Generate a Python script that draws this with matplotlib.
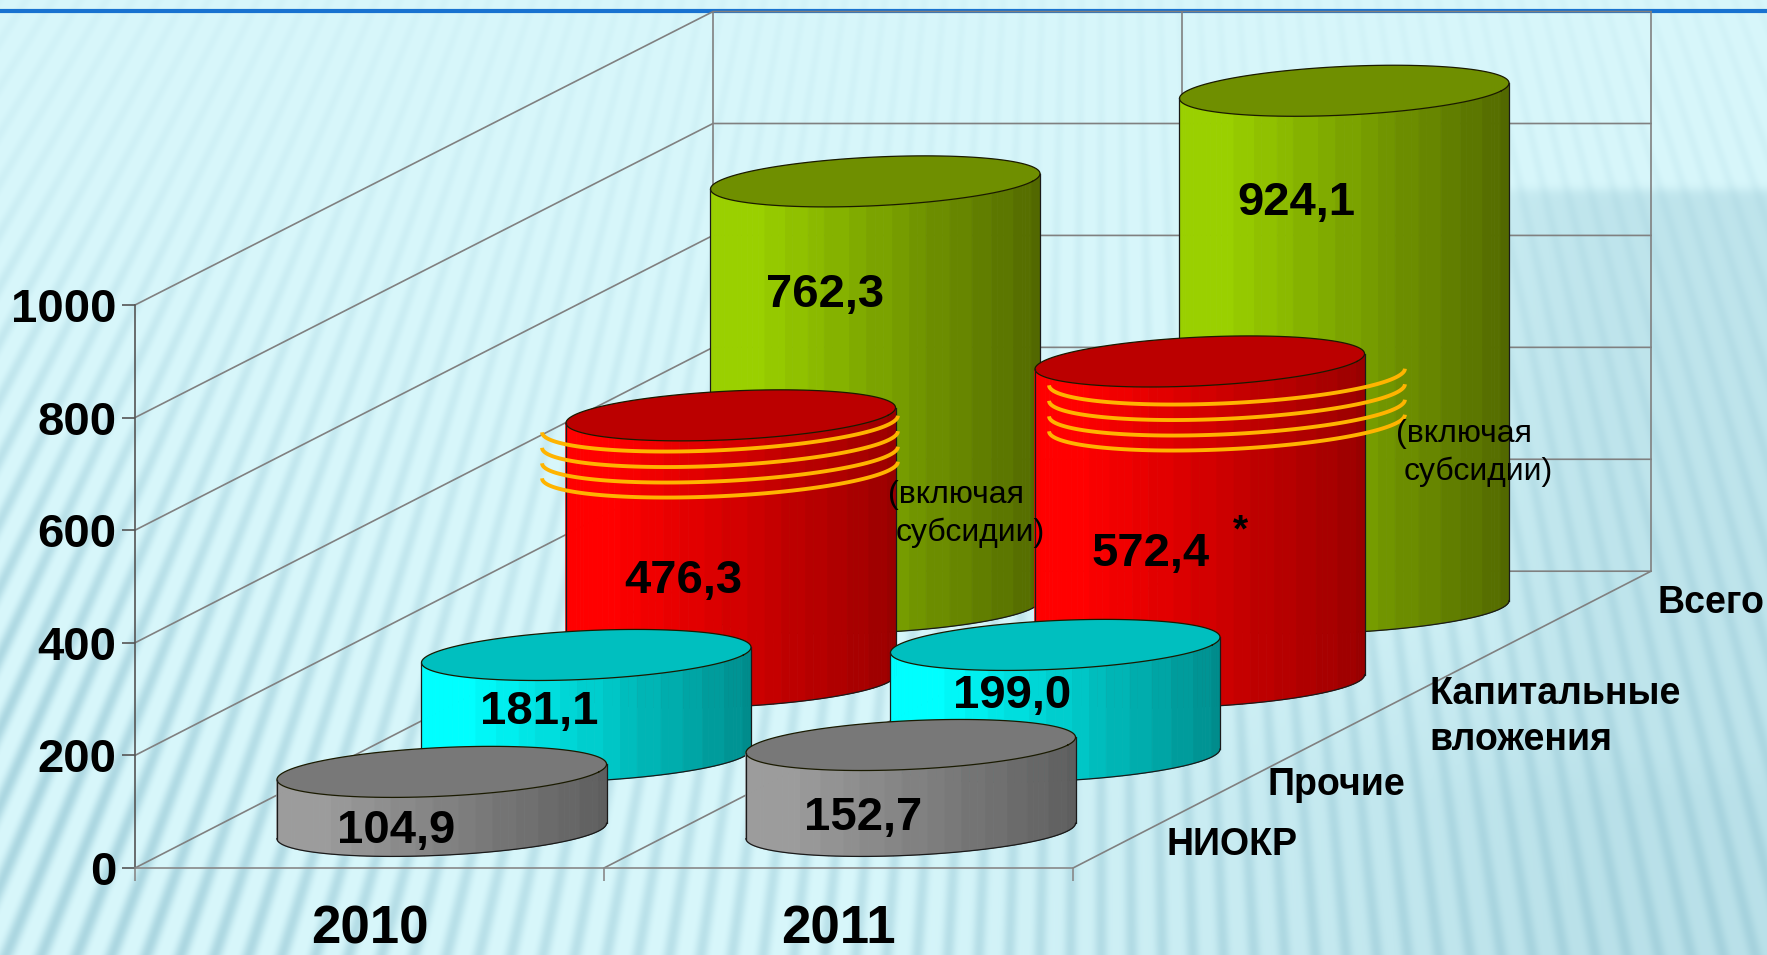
import numpy as np
import matplotlib
matplotlib.use("Agg")
import matplotlib.pyplot as plt
from matplotlib.collections import PolyCollection

plt.rcParams["font.family"] = ["Liberation Sans", "DejaVu Sans"]

# chart data
years = ["2010", "2011"]
series_names = ["НИОКР", "Прочие", "Капитальные\nвложения", "Всего"]
niokr = [104.9, 152.7]
prochie = [181.1, 199.0]
kapital = [476.3, 572.4]
vsego = [762.3, 924.1]
y_ticks = [0, 200, 400, 600, 800, 1000]

# left, right and top colours of each cylinder
cyl_colors = [
    ("#9c9c9c", "#5e5e5e", "#787878"),
    ("#00ffff", "#008c8c", "#00bfbf"),
    ("#ff0000", "#990000", "#bb0000"),
    ("#9ad000", "#526800", "#6f8f00"),
]

W, H = 1767, 955
# depth direction of the fake 3d box, per series, in axes data units
DX = 144.5 / 469
DY = 74.2 / 0.563
SHRINK = 0.0015  # small perspective, values get shorter towards the back
R_U = 0.335
R_D = 0.344
T0 = np.arctan2(R_D * DX, R_U)


def make_background():
    yy, xx = np.mgrid[0:H, 0:W].astype(float)
    light = np.array([216, 247, 251]) / 255
    dark = np.array([165, 210, 221]) / 255
    # soft darker shapes at the right
    patch = 1 / (1 + np.exp(-(yy - 190) / 3)) / (1 + np.exp(-(xx - 1480) / 40)) * 0.6
    lower = np.clip((xx - 850) / 750, 0, 1) * np.clip((yy - 450) / 350, 0, 1) * 0.7
    m = np.maximum(patch, lower)
    # fan of stripes
    theta = np.arctan2(xx - 1100, yy + 1700)
    phase = theta / 0.0115
    stripe = 0.5 + 0.5 * np.cos(2 * np.pi * phase)
    stripe = stripe ** 2
    amp = 0.10 + 0.5 * np.clip(yy / H, 0, 1) ** 1.2 + 0.4 * np.clip((500 - xx) / 500, 0, 1) * np.clip((yy - 150) / 500, 0.05, 1)
    amp = np.clip(amp, 0, 0.85)
    mix = np.clip(m * 0.85 + stripe * amp * (1 - m * 0.5), 0, 1)[..., None]
    return light * (1 - mix) + dark * mix


def proj(u, d, v):
    return u + d * DX, v * (1 - SHRINK * d) + d * DY


def draw_cylinder(ax, u, d, value, colors, z):
    left, right, top = [np.array(matplotlib.colors.to_rgb(c)) for c in colors]
    t = np.linspace(T0 + np.pi, T0 + 2 * np.pi, 61)
    xc, yb = proj(u, d, 0)
    _, ytop = proj(u, d, value)
    height = ytop - yb
    x = xc + R_U * np.cos(t) + R_D * DX * np.sin(t)
    y = yb + R_D * DY * np.sin(t)
    # side strips, banded shading from left to right
    frac = (x - x.min()) / (x.max() - x.min())
    polys, cols = [], []
    for i in range(len(t) - 1):
        polys.append([(x[i], y[i]), (x[i + 1], y[i + 1]),
                      (x[i + 1], y[i + 1] + height), (x[i], y[i] + height)])
        f = np.clip((frac[i] - 0.12) / 0.88, 0, 1)
        f = np.round(f * 14) / 14
        cols.append(left + (right - left) * f)
    ax.add_collection(PolyCollection(polys, facecolors=cols, edgecolors=cols, linewidths=0.6,
                                     zorder=z, clip_on=False))
    # top ellipse
    ta = np.linspace(0, 2 * np.pi, 121)
    xt = xc + R_U * np.cos(ta) + R_D * DX * np.sin(ta)
    yt = ytop + R_D * DY * np.sin(ta)
    ax.fill(xt, yt, color=top, zorder=z + 0.1, clip_on=False, lw=0)
    ax.plot(xt, yt, color="#1a1a00", lw=0.9, zorder=z + 0.2, clip_on=False)
    # outline of the body
    ax.plot(x, y, color="#1a1a1a", lw=0.9, zorder=z + 0.2, clip_on=False)
    for i in (0, -1):
        ax.plot([x[i], x[i]], [y[i], y[i] + height], color="#1a1a1a", lw=0.9, zorder=z + 0.2, clip_on=False)


fig = plt.figure(figsize=(W / 100, H / 100), dpi=100)

bg = fig.add_axes([0, 0, 1, 1], zorder=0)
bg.imshow(make_background(), extent=(0, W, H, 0), aspect="auto", interpolation="bilinear")
bg.axhline(11.5, color="#1872d0", lw=3)
bg.set_xlim(0, W)
bg.set_ylim(H, 0)
bg.axis("off")

# main axes sit on the front face of the box
ax = fig.add_axes([135 / W, (H - 868) / H, 938 / W, 563 / H], zorder=1)
ax.patch.set_visible(False)
ax.set_xlim(0, 2)
ax.set_ylim(0, 1000)
for s in ("top", "right"):
    ax.spines[s].set_visible(False)
ax.spines["left"].set_color("#555555")
ax.spines["left"].set_linewidth(1.2)
ax.spines["bottom"].set_color("#888888")
ax.spines["bottom"].set_linewidth(1.2)
ax.set_yticks(y_ticks)
ax.set_yticklabels([str(v) for v in y_ticks], fontsize=34, fontweight="bold", color="black")
ax.tick_params(axis="y", length=9.4, width=1.2, color="#555555", pad=4)
ax.set_xticks([0, 1, 2])
ax.set_xticklabels([])
ax.tick_params(axis="x", which="major", length=9, width=1.2, color="#888888")
ax.set_xticks([0.5, 1.5], minor=True)
ax.set_xticklabels(years, minor=True, fontsize=38, fontweight="bold")
ax.tick_params(axis="x", which="minor", length=0, pad=26)

# walls and floor
grid = dict(color="#808080", lw=1.2, zorder=0.5, clip_on=False)
n_depth = len(series_names)
for v in y_ticks:
    x0, y0 = proj(0, 0, v)
    x1, y1 = proj(0, n_depth, v)
    x2, y2 = proj(2, n_depth, v)
    ax.plot([x0, x1, x2], [y0, y1, y2], **grid)
for u in (1, 2):
    x0, y0 = proj(u, 0, 0)
    x1, y1 = proj(u, n_depth, 0)
    ax.plot([x0, x1], [y0, y1], **grid)
for u in (0, 1, 2):
    x0, y0 = proj(u, n_depth, 0)
    x1, y1 = proj(u, n_depth, 1000)
    ax.plot([x0, x1], [y0, y1], **grid)

# cylinders, back row first
all_series = [niokr, prochie, kapital, vsego]
for k in range(3, -1, -1):
    for j in range(2):
        draw_cylinder(ax, j + 0.5, k + 0.5, all_series[k][j], cyl_colors[k], z=10 + (3 - k) * 5 + j)

# overlay in image pixels for the pasted-on text and rings
top = fig.add_axes([0, 0, 1, 1], zorder=2)
top.patch.set_visible(False)
top.set_xlim(0, W)
top.set_ylim(H, 0)
top.axis("off")

# yellow rings over the red cylinders
ring_centers = [(720, 424), (1227, 377)]
ring_steps = [0, 15.5, 31, 46]
t = np.linspace(T0 + np.pi, T0 + 2 * np.pi, 80)
for cx, cy in ring_centers:
    for step in ring_steps:
        px = cx + 1.08 * (157 * np.cos(t) + 49.9 * np.sin(t))
        py = cy + step - 1.08 * 25.5 * np.sin(t)
        top.plot(px, py, color="#ffb400", lw=2.8, solid_capstyle="butt")

# value labels
labels = ["762,3", "924,1", "476,3", "572,4", "181,1", "199,0", "104,9", "152,7"]
label_pos = [(825, 295), (1296, 203), (683, 581), (1151, 554), (539, 712), (1012, 696), (396, 831), (863, 818)]
for s, (lx, ly) in zip(labels, label_pos):
    top.text(lx, ly, s, fontsize=34, fontweight="bold", ha="center", va="center", color="black")
top.text(1240, 531, "*", fontsize=28, fontweight="bold", ha="center", va="center", color="black")

# series labels
name_pos = [(1166, 845), (1267, 785), (1429, 717), (1657, 603)]
for s, (lx, ly) in zip(series_names, name_pos):
    top.text(lx, ly, s, fontsize=27, fontweight="bold", ha="left", va="center", linespacing=1.35)

# notes
for nx, ny in [(888, 495), (1396, 434)]:
    top.text(nx, ny, "(включая", fontsize=23, ha="left", va="center")
    top.text(nx + 8, ny + 38, "субсидии)", fontsize=23, ha="left", va="center")

fig.savefig("out.png", dpi=100)
plt.close(fig)
